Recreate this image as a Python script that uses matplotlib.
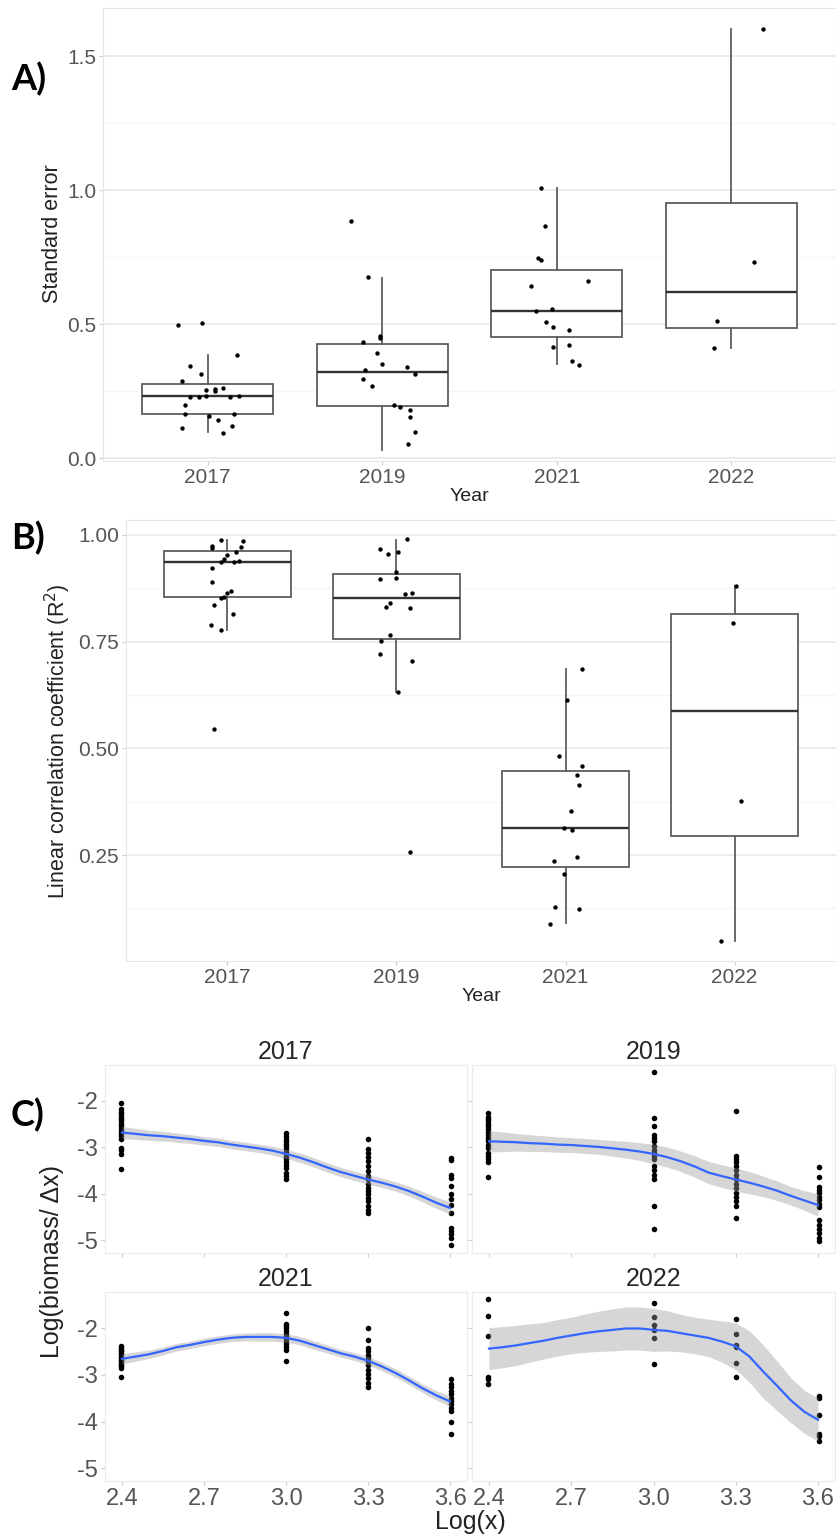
import numpy as np
import matplotlib.pyplot as plt

plt.rcParams['font.family'] = ['Liberation Sans', 'DejaVu Sans']
plt.rcParams['axes.unicode_minus'] = False

W, H = 836, 1538

# -------------------------- data --------------------------
years = ['2017', '2019', '2021', '2022']

# A) standard error per year (points + jitter offsets read from figure)
se_vals = [
    [0.496, 0.504, 0.384, 0.343, 0.313, 0.287, 0.254, 0.26, 0.25, 0.263, 0.228, 0.229,
     0.231, 0.229, 0.233, 0.20, 0.164, 0.157, 0.164, 0.142, 0.112, 0.12, 0.093],
    [0.885, 0.675, 0.455, 0.45, 0.433, 0.392, 0.351, 0.34, 0.328, 0.313, 0.295, 0.269,
     0.198, 0.19, 0.179, 0.153, 0.097, 0.052],
    [1.007, 0.867, 0.748, 0.74, 0.643, 0.66, 0.549, 0.556, 0.507, 0.489, 0.478, 0.414,
     0.422, 0.363, 0.35],
    [1.60, 0.734, 0.511, 0.41],
]
se_jit = [
    [-0.17, -0.03, 0.17, -0.10, -0.04, -0.15, -0.01, 0.04, 0.04, 0.09, -0.10, -0.05,
     -0.01, 0.13, 0.18, -0.13, -0.13, 0.01, 0.15, 0.06, -0.15, 0.14, 0.09],
    [-0.18, -0.08, -0.01, -0.01, -0.11, -0.03, 0.0, 0.14, -0.10, 0.19, -0.11, -0.06,
     0.07, 0.10, 0.16, 0.16, 0.19, 0.15],
    [-0.09, -0.07, -0.11, -0.09, -0.15, 0.18, -0.12, -0.03, -0.06, -0.02, 0.07, -0.02,
     0.07, 0.09, 0.13],
    [0.18, 0.13, -0.08, -0.10],
]
# whisker low, q1, median, q3, whisker high
se_box = [
    (0.097, 0.164, 0.231, 0.276, 0.384),
    (0.03, 0.194, 0.321, 0.425, 0.672),
    (0.351, 0.452, 0.549, 0.701, 1.007),
    (0.413, 0.485, 0.622, 0.952, 1.60),
]
se_ticks = [0.0, 0.5, 1.0, 1.5]
se_ticklabels = ['0.0', '0.5', '1.0', '1.5']

# B) R2 per year
r2_vals = [
    [0.988, 0.986, 0.974, 0.97, 0.972, 0.96, 0.953, 0.944, 0.937, 0.937, 0.939, 0.923,
     0.89, 0.869, 0.864, 0.855, 0.852, 0.836, 0.815, 0.789, 0.778, 0.545],
    [0.99, 0.967, 0.956, 0.96, 0.913, 0.897, 0.9, 0.862, 0.864, 0.841, 0.831, 0.829,
     0.766, 0.752, 0.721, 0.705, 0.632, 0.258],
    [0.686, 0.614, 0.482, 0.459, 0.438, 0.415, 0.354, 0.314, 0.309, 0.237, 0.246, 0.206,
     0.129, 0.124, 0.089],
    [0.881, 0.794, 0.377, 0.049],
]
r2_jit = [
    [-0.04, 0.09, -0.09, -0.09, 0.08, 0.05, 0.0, -0.02, -0.04, 0.04, 0.07, -0.09,
     -0.09, 0.02, 0.0, -0.02, -0.04, -0.08, 0.03, -0.10, -0.04, -0.08],
    [0.06, -0.10, -0.05, 0.01, 0.0, -0.10, 0.0, 0.05, 0.09, -0.04, -0.06, 0.08,
     -0.04, -0.09, -0.10, 0.09, 0.01, 0.08],
    [0.10, 0.01, -0.04, 0.10, 0.07, 0.08, 0.03, -0.01, 0.04, -0.07, 0.07, -0.01,
     -0.06, 0.08, -0.09],
    [0.01, -0.01, 0.04, -0.08],
]
r2_box = [
    (0.778, 0.855, 0.937, 0.963, 0.988),
    (0.632, 0.756, 0.852, 0.909, 0.988),
    (0.091, 0.222, 0.314, 0.447, 0.686),
    (0.049, 0.295, 0.588, 0.815, 0.881),
]
r2_ticks = [0.25, 0.50, 0.75, 1.00]
r2_ticklabels = ['0.25', '0.50', '0.75', '1.00']

# C) log biomass per size class, by year
logx = [2.398, 3.0, 3.301, 3.602]
c_points = {
    '2017': [
        [-2.04, -2.18, -2.23, -2.28, -2.34, -2.39, -2.44, -2.49, -2.55, -2.61, -2.66, -2.71,
         -2.76, -2.81, -3.01, -3.06, -3.15, -3.46],
        [-2.69, -2.75, -2.81, -2.86, -2.92, -2.98, -3.03, -3.09, -3.15, -3.2, -3.26, -3.31,
         -3.37, -3.44, -3.55, -3.62, -3.68],
        [-2.82, -3.04, -3.12, -3.21, -3.3, -3.41, -3.51, -3.62, -3.69, -3.78, -3.87, -3.94,
         -4.01, -4.08, -4.15, -4.26, -4.34, -4.41],
        [-3.23, -3.28, -3.59, -3.66, -3.82, -4.01, -4.11, -4.23, -4.41, -4.73, -4.8, -4.87,
         -4.94, -5.09],
    ],
    '2019': [
        [-2.26, -2.34, -2.39, -2.44, -2.49, -2.55, -2.61, -2.66, -2.73, -2.8, -2.87, -2.94,
         -3.01, -3.12, -3.19, -3.25, -3.32, -3.64],
        [-1.39, -2.36, -2.55, -2.73, -2.8, -2.87, -2.96, -3.05, -3.12, -3.19, -3.26, -3.4,
         -3.48, -3.59, -3.69, -4.25, -4.75],
        [-2.21, -3.18, -3.25, -3.32, -3.41, -3.48, -3.59, -3.69, -3.78, -3.87, -3.98, -4.06,
         -4.16, -4.25, -4.51],
        [-3.43, -3.64, -3.85, -3.92, -3.99, -4.06, -4.14, -4.21, -4.28, -4.56, -4.66, -4.75,
         -4.84, -4.94, -5.01],
    ],
    '2021': [
        [-2.39, -2.43, -2.46, -2.5, -2.54, -2.57, -2.61, -2.64, -2.68, -2.71, -2.75, -2.79,
         -2.82, -2.86, -3.04],
        [-1.68, -1.91, -1.96, -2.01, -2.07, -2.13, -2.18, -2.24, -2.29, -2.34, -2.41, -2.46,
         -2.7],
        [-2.0, -2.25, -2.43, -2.5, -2.57, -2.64, -2.71, -2.8, -2.89, -2.99, -3.07, -3.18,
         -3.27],
        [-3.09, -3.2, -3.27, -3.34, -3.41, -3.49, -3.56, -3.63, -3.7, -3.77, -4.01, -4.26],
    ],
    '2022': [
        [-1.39, -1.75, -2.16, -3.04, -3.09, -3.19],
        [-1.46, -1.77, -1.94, -2.04, -2.21, -2.76],
        [-1.81, -2.12, -2.37, -2.41, -2.74, -3.04],
        [-3.46, -3.5, -3.86, -4.26, -4.3, -4.41],
    ],
}

# loess fit (geom_smooth) and its ribbon half-width
fit_x = [2.40, 2.45, 2.50, 2.55, 2.60, 2.65, 2.70, 2.75, 2.80, 2.85, 2.90, 2.95, 3.00,
         3.05, 3.10, 3.15, 3.20, 3.25, 3.30, 3.35, 3.40, 3.45, 3.50, 3.55, 3.60]
fit_y = {
    '2017': [-2.68, -2.71, -2.74, -2.76, -2.79, -2.82, -2.86, -2.89, -2.94, -2.98, -3.02, -3.07,
             -3.14, -3.22, -3.32, -3.43, -3.53, -3.61, -3.69, -3.76, -3.84, -3.94, -4.06, -4.19, -4.30],
    '2019': [-2.87, -2.88, -2.89, -2.91, -2.92, -2.94, -2.95, -2.97, -2.99, -3.02, -3.05, -3.09,
             -3.14, -3.21, -3.30, -3.41, -3.54, -3.62, -3.69, -3.76, -3.84, -3.93, -4.04, -4.14, -4.24],
    '2021': [-2.66, -2.61, -2.56, -2.49, -2.41, -2.36, -2.30, -2.25, -2.21, -2.19, -2.19, -2.19,
             -2.21, -2.27, -2.36, -2.45, -2.54, -2.61, -2.70, -2.82, -2.96, -3.12, -3.29, -3.44, -3.57],
    '2022': [-2.44, -2.41, -2.37, -2.32, -2.27, -2.21, -2.16, -2.11, -2.07, -2.04, -2.01, -2.01,
             -2.04, -2.06, -2.11, -2.16, -2.21, -2.29, -2.39, -2.61, -2.93, -3.23, -3.54, -3.79, -3.96],
}
fit_se = {
    '2017': [0.13, 0.12, 0.11, 0.105, 0.10, 0.095, 0.09, 0.09, 0.09, 0.09, 0.09, 0.095, 0.10,
             0.10, 0.10, 0.10, 0.10, 0.10, 0.10, 0.10, 0.10, 0.105, 0.11, 0.12, 0.13],
    '2019': [0.23, 0.21, 0.19, 0.18, 0.17, 0.165, 0.16, 0.16, 0.16, 0.17, 0.18, 0.19, 0.21,
             0.215, 0.22, 0.23, 0.24, 0.245, 0.25, 0.24, 0.22, 0.21, 0.20, 0.21, 0.24],
    '2021': [0.11, 0.10, 0.09, 0.085, 0.08, 0.08, 0.08, 0.08, 0.08, 0.085, 0.09, 0.09, 0.09,
             0.09, 0.09, 0.085, 0.08, 0.085, 0.09, 0.09, 0.09, 0.09, 0.09, 0.10, 0.11],
    '2022': [0.45, 0.44, 0.43, 0.41, 0.39, 0.39, 0.39, 0.41, 0.43, 0.45, 0.46, 0.46, 0.46,
             0.43, 0.40, 0.39, 0.40, 0.44, 0.50, 0.55, 0.57, 0.53, 0.48, 0.46, 0.46],
}
c_xticks = [2.4, 2.7, 3.0, 3.3, 3.6]
c_yticks = [-2, -3, -4, -5]

# -------------------------- figure --------------------------
fig = plt.figure(figsize=(W / 100, H / 100), dpi=100)


def px_axes(x0, y0, x1, y1):
    # pixel box (from top-left) -> figure axes
    return fig.add_axes([x0 / W, 1 - y1 / H, (x1 - x0) / W, (y1 - y0) / H])


GRID = '#ebebeb'
TXT = '#555555'


def box_panel(ax, vals, jit, box, ylim, ticks, ticklabels):
    ax.set_xlim(0.4, 4.6)
    ax.set_ylim(*ylim)
    ax.set_yticks(ticks)
    ax.set_yticklabels(ticklabels)
    step = ticks[1] - ticks[0]
    minor = [ticks[0] - step / 2] + [t + step / 2 for t in ticks]
    ax.set_yticks([m for m in minor if ylim[0] < m < ylim[1]], minor=True)
    ax.grid(axis='y', which='major', color=GRID, lw=1.3)
    ax.grid(axis='y', which='minor', color='#f5f5f5', lw=1.0)
    ax.set_axisbelow(True)
    stats = [dict(whislo=b[0], q1=b[1], med=b[2], q3=b[3], whishi=b[4]) for b in box]
    ax.bxp(stats, positions=[1, 2, 3, 4], widths=0.75, showfliers=False, showcaps=False,
           patch_artist=True,
           boxprops=dict(facecolor='white', edgecolor='#5e5e5e', lw=1.3),
           whiskerprops=dict(color='#5e5e5e', lw=1.3),
           medianprops=dict(color='#333333', lw=1.7))
    for i, (v, j) in enumerate(zip(vals, jit)):
        ax.scatter(i + 1 + np.array(j), v, s=10, color='black', lw=0, zorder=4)
    ax.set_xticks([1, 2, 3, 4])
    ax.set_xticklabels(years)
    ax.tick_params(which='both', length=3, color='#cccccc', labelsize=15, labelcolor=TXT, pad=2)
    ax.tick_params(which='minor', length=0)
    for s in ax.spines.values():
        s.set_color('#e6e6e6')
    ax.set_xlabel('Year', fontsize=14, color='#222222', labelpad=1)


# ---- A)
axA = px_axes(103, 8, 836, 461)
box_panel(axA, se_vals, se_jit, se_box, (-0.01, 1.68), se_ticks, se_ticklabels)
fig.text(53 / W, 1 - 234 / H, 'Standard error', rotation=90, ha='center', va='center',
         fontsize=15.5, color='#222222')

# ---- B)
axB = px_axes(126, 520, 836, 961)
box_panel(axB, r2_vals, r2_jit, r2_box, (0.002, 1.035), r2_ticks, r2_ticklabels)
fig.text(58 / W, 1 - 741 / H, 'Linear correlation coefficient (R$^2$)', rotation=90,
         ha='center', va='center', fontsize=15.5, color='#222222')

# ---- C) facets
facets = [('2017', (105, 1065, 467, 1253), False, True),
          ('2019', (472, 1065, 835, 1253), False, False),
          ('2021', (105, 1292, 467, 1481), True, True),
          ('2022', (472, 1292, 835, 1481), True, False)]
for yr, box, show_x, show_y in facets:
    ax = px_axes(*box)
    ax.set_xlim(2.338, 3.662)
    ax.set_ylim(-5.27, -1.23)
    for xv, pts in zip(logx, c_points[yr]):
        ax.scatter(np.full(len(pts), xv), pts, s=16, color='black', lw=0, zorder=2)
    y = np.array(fit_y[yr])
    se = np.array(fit_se[yr])
    ax.fill_between(fit_x, y - se, y + se, color='#999999', alpha=0.4, lw=0, zorder=3)
    ax.plot(fit_x, y, color='#3366FF', lw=1.6, zorder=4, solid_joinstyle='round')
    ax.set_xticks(c_xticks)
    ax.set_yticks(c_yticks)
    ax.tick_params(length=3, color='#cccccc', labelsize=17, labelcolor=TXT, pad=2,
                   labelbottom=show_x, labelleft=show_y)
    for s in ax.spines.values():
        s.set_color('#ebebeb')
    ax.set_title(yr, fontsize=18, color='#262626', pad=4)

fig.text(52 / W, 1 - 1262 / H, 'Log(biomass/ \u0394x)', rotation=90, ha='center', va='center',
         fontsize=18, color='#222222')
fig.text(470 / W, 1 - 1522 / H, 'Log(x)', ha='center', va='center', fontsize=18, color='#222222')

# ---- panel letters
for lab, ybase in [('A)', 90), ('B)', 549), ('C)', 1126)]:
    fig.text(11 / W, 1 - ybase / H, lab, fontsize=26, fontweight='bold', family=['Lato', 'DejaVu Sans'],
             va='baseline', ha='left')

fig.savefig('out.png', dpi=100, facecolor='white')
